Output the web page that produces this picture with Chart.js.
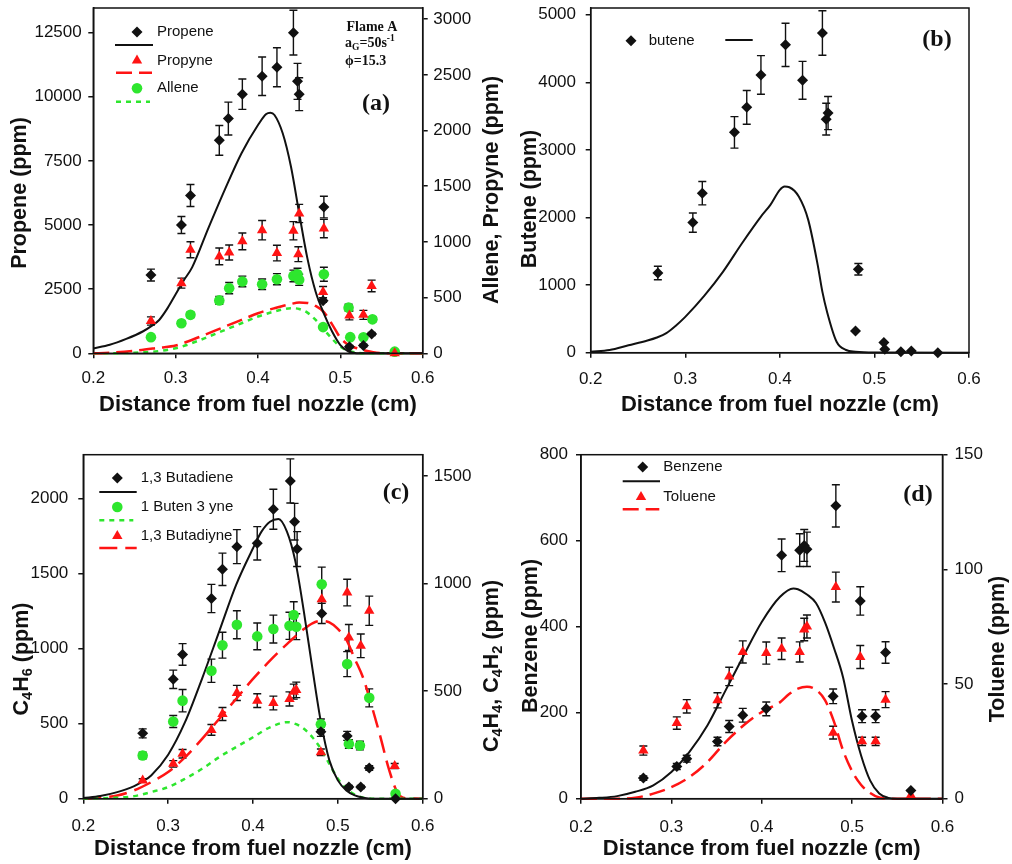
<!DOCTYPE html>
<html><head><meta charset="utf-8">
<script src="https://cdn.jsdelivr.net/npm/chart.js@4.4.1/dist/chart.umd.min.js"></script>
<style>
html,body{margin:0;padding:0;background:#fff;}
#wrap{position:relative;width:1012px;height:864px;overflow:hidden;background:#fff;}
canvas{position:absolute;}
</style></head><body>
<div id="wrap">
<canvas id="ca" width="506" height="432" style="left:0px;top:0px"></canvas>
<canvas id="cb" width="506" height="432" style="left:506px;top:0px"></canvas>
<canvas id="cc" width="506" height="432" style="left:0px;top:432px"></canvas>
<canvas id="cd" width="506" height="432" style="left:506px;top:432px"></canvas>
</div>
<script>
// ---------- shared ticks ----------
const xTicks = [0.2, 0.3, 0.4, 0.5, 0.6];

// ---------- Panel (a) ----------
const aPropeneX   = [0.270,0.307,0.318,0.353,0.364,0.381,0.405,0.423,0.443,0.448,0.450,0.480,0.479,0.511,0.528,0.538];
const aPropeneY   = [3050,5000,6150,8300,9150,10100,10800,11150,12500,10600,10100,5700,2050,260,300,750];
const aPropeneErr = [230,330,430,580,640,590,750,760,870,700,640,420,60,50,50,60];
const aPropyneX   = [0.270,0.307,0.318,0.353,0.365,0.381,0.405,0.423,0.443,0.449,0.450,0.480,0.479,0.511,0.528,0.538,0.566];
const aPropyneY   = [290,630,930,870,905,1005,1105,900,1100,890,1255,1120,550,340,345,605,0];
const aPropyneErr = [37,45,72,75,67,75,87,70,82,67,82,82,50,40,40,52,0];
const aAlleneX    = [0.270,0.307,0.318,0.353,0.365,0.381,0.405,0.423,0.443,0.448,0.450,0.480,0.479,0.510,0.512,0.528,0.539,0.566];
const aAlleneY    = [145,270,345,475,585,645,620,665,695,710,660,710,235,410,145,144,305,15];
const aAlleneErr  = [10,20,25,35,50,48,47,50,52,53,50,63,18,30,10,10,23,0];
const aPropeneModelX = [0.20,0.22,0.24,0.26,0.27,0.28,0.29,0.30,0.31,0.32,0.34,0.36,0.38,0.40,0.41,0.415,0.42,0.43,0.44,0.45,0.46,0.47,0.48,0.49,0.50,0.51,0.52,0.54,0.60];
const aPropeneModelY = [190,330,560,850,1050,1300,1750,2300,2850,3350,4900,6400,7800,8900,9330,9380,9290,8575,7280,5460,3700,2400,1550,850,320,70,5,0,0];
const aPropyneModelX = [0.20,0.22,0.25,0.28,0.30,0.33,0.35,0.38,0.40,0.42,0.44,0.45,0.46,0.47,0.48,0.49,0.50,0.51,0.52,0.53,0.54,0.56,0.60];
const aPropyneModelY = [0,5,22,50,70,150,210,300,360,405,443,455,452,425,370,260,140,75,45,25,10,0,0];
const aAlleneModelX  = [0.20,0.25,0.30,0.33,0.35,0.38,0.40,0.42,0.44,0.45,0.46,0.47,0.48,0.49,0.50,0.51,0.52,0.53,0.60];
const aAlleneModelY  = [0,5,45,120,180,270,330,375,405,398,365,300,215,130,60,22,6,0,0];
const aLeftTicks  = [0,2500,5000,7500,10000,12500];
const aRightTicks = [0,500,1000,1500,2000,2500,3000];

// ---------- Panel (b) ----------
const bButeneX   = [0.271,0.308,0.318,0.352,0.365,0.380,0.406,0.424,0.445,0.449,0.451,0.483,0.480,0.510,0.511,0.528,0.539,0.567];
const bButeneY   = [1180,1925,2360,3260,3630,4110,4555,4030,4730,3455,3545,1235,320,150,50,15,25,0];
const bButeneErr = [100,143,173,233,250,286,320,280,330,235,245,85,0,0,0,0,0,0];
const bModelX = [0.20,0.22,0.24,0.26,0.27,0.28,0.29,0.30,0.32,0.34,0.36,0.38,0.39,0.40,0.405,0.41,0.42,0.43,0.44,0.445,0.45,0.46,0.47,0.48,0.50,0.60];
const bModelY = [15,40,110,180,225,290,400,530,840,1200,1620,2014,2187,2409,2458,2448,2310,1965,1300,900,600,163,40,15,3,0];
const bLeftTicks = [0,1000,2000,3000,4000,5000];

// ---------- Panel (c) ----------
const cButadieneX   = [0.270,0.306,0.317,0.351,0.364,0.381,0.405,0.424,0.444,0.449,0.452,0.481,0.480,0.511,0.513,0.527,0.537,0.568];
const cButadieneY   = [435,795,960,1333,1527,1678,1700,1927,2115,1844,1662,1233,445,418,78,78,204,0];
const cButadieneErr = [30,61,72,94,108,113,111,133,147,122,116,67,30,30,10,10,15,0];
const cButenyneX    = [0.270,0.306,0.317,0.351,0.364,0.381,0.405,0.424,0.443,0.448,0.451,0.481,0.480,0.511,0.513,0.526,0.537,0.568];
const cButenyneY    = [201,359,456,595,714,809,755,789,804,854,800,997,346,626,255,247,469,23];
const cButenyneErr  = [15,28,52,54,60,65,62,65,63,62,60,80,25,58,20,20,42,0];
const cButadiyneX   = [0.270,0.306,0.317,0.351,0.364,0.381,0.405,0.424,0.443,0.448,0.451,0.481,0.480,0.511,0.513,0.527,0.537,0.567];
const cButadiyneY   = [85,162,209,320,394,492,456,445,464,498,506,928,216,959,750,711,874,152];
const cButadiyneErr = [8,15,20,25,30,35,32,32,33,35,36,65,15,62,60,55,68,12];
const cButadieneModelX = [0.20,0.22,0.24,0.26,0.27,0.28,0.30,0.32,0.34,0.36,0.38,0.40,0.41,0.42,0.43,0.44,0.45,0.46,0.47,0.48,0.49,0.50,0.51,0.52,0.53,0.54,0.60];
const cButadieneModelY = [4,18,44,84,115,155,293,511,800,1111,1422,1667,1778,1844,1862,1778,1578,1244,867,511,255,122,55,22,7,0,0];
const cButenyneModelX  = [0.20,0.24,0.26,0.28,0.30,0.32,0.34,0.36,0.38,0.40,0.42,0.44,0.45,0.46,0.47,0.48,0.49,0.50,0.51,0.52,0.53,0.54,0.60];
const cButenyneModelY  = [0,5,12,31,54,93,139,193,240,286,332,356,348,325,286,232,162,93,46,19,5,0,0];
const cButadiyneModelX = [0.20,0.22,0.24,0.26,0.28,0.30,0.32,0.34,0.36,0.38,0.40,0.42,0.44,0.46,0.47,0.48,0.49,0.50,0.51,0.52,0.53,0.54,0.55,0.56,0.57,0.58,0.60];
const cButadiyneModelY = [0,5,15,39,77,124,193,278,371,464,557,642,719,789,816,827,820,790,740,650,560,430,290,140,30,2,0];
const cLeftTicks  = [0,500,1000,1500,2000];
const cRightTicks = [0,500,1000,1500];

// ---------- Panel (d) ----------
const dX          = [0.269,0.306,0.317,0.351,0.364,0.379,0.405,0.422,0.442,0.447,0.450,0.482,0.479,0.509,0.511,0.526,0.537,0.565];
const dBenzeneY   = [48,75,93,133,168,194,209,566,578,589,580,681,238,460,192,192,340,19];
const dBenzeneErr = [5,7,8,10,14,16,16,38,38,37,40,49,17,33,15,15,25,2];
const dTolueneY   = [21,33,40.3,42.9,53.3,64,63.5,65.4,64,73.8,75.1,92.3,28.8,61.8,25,25,43.2,1.5];
const dTolueneErr = [2,2.7,2.9,3.3,4,4.8,4.8,4.7,4.4,4.9,5,6.5,2.8,5,1.8,1.8,3.5,0];
const dBenzeneModelX = [0.20,0.22,0.24,0.26,0.28,0.30,0.32,0.34,0.36,0.38,0.40,0.42,0.435,0.44,0.45,0.46,0.47,0.48,0.49,0.50,0.51,0.52,0.53,0.54,0.55,0.60];
const dBenzeneModelY = [0,2,6,16,31,62,109,171,252,333,411,469,489,487,475,455,410,350,282,180,100,42,12,2,0,0];
const dTolueneModelX = [0.20,0.24,0.26,0.28,0.30,0.32,0.34,0.36,0.38,0.40,0.42,0.43,0.44,0.45,0.46,0.47,0.48,0.49,0.50,0.51,0.52,0.53,0.54,0.60];
const dTolueneModelY = [0,0,0.4,2.2,5,9.4,16,24.7,32,37.8,42,45.5,48,48.8,47.5,43,33.5,21,12,6,2.5,0.5,0,0];
const dLeftTicks  = [0,200,400,600,800];
const dRightTicks = [0,50,100,150];

// ---------- styling helpers ----------
const FONT  = "'Liberation Sans', Arial, Helvetica, sans-serif";
const SERIF = "'Liberation Serif', 'Times New Roman', Times, serif";
const INK   = '#111111';
const RED   = '#ff1414';
const GREEN = '#2ee62e';
Chart.defaults.font.family = FONT;

const pts = (xs, ys) => xs.map((x, i) => ({x: x, y: ys[i]}));

function xScale(g) {
  return {
    type: 'linear', position: 'bottom', min: 0.2, max: 0.6,
    afterBuildTicks: s => { s.ticks = xTicks.map(v => ({value: v})); },
    ticks: {padding: g.xtp, color: INK, font: {family: FONT, size: 17}, callback: v => Number(v).toFixed(1)},
    grid: {drawOnChartArea: false, drawTicks: true, tickLength: 5, color: INK, tickColor: INK, lineWidth: 1.5},
    border: {display: true, color: INK, width: 1.5},
    title: {display: true, text: 'Distance from fuel nozzle (cm)', color: INK,
            font: {family: FONT, size: 22, weight: 'bold'}, padding: {top: 0, bottom: g.xtb}},
    afterFit: s => { s.height = g.H - g.B; s.paddingLeft = 0; s.paddingRight = 0; }
  };
}
function yScale(pos, max, tickVals, g, pad) {
  return {
    type: 'linear', position: pos, min: 0, max: max,
    afterBuildTicks: s => { s.ticks = tickVals.map(v => ({value: v})); },
    ticks: {padding: pad, color: INK, font: {family: FONT, size: 17}, callback: v => String(v)},
    grid: {drawOnChartArea: false, drawTicks: true, tickLength: 5, color: INK, tickColor: INK, lineWidth: 1.5},
    border: {display: true, color: INK, width: 1.5},
    afterFit: s => { s.width = pos === 'left' ? g.L : g.W - g.R; s.paddingTop = 0; s.paddingBottom = 0; }
  };
}
function pointSet(xs, ys, errs, axis, style, color, r) {
  return {data: pts(xs, ys), yAxisID: axis, showLine: false, pointStyle: style, pointRadius: r,
          pointHoverRadius: r, backgroundColor: color, borderColor: color, borderWidth: 0,
          errorBars: errs, clip: false};
}
function lineSet(xs, ys, axis, color, dash, w) {
  return {data: pts(xs, ys), yAxisID: axis, showLine: true, pointRadius: 0, pointHoverRadius: 0,
          borderColor: color, backgroundColor: color, borderWidth: w, borderDash: dash,
          cubicInterpolationMode: 'monotone', fill: false, clip: false};
}

function marker(ctx, style, x, y, r, color) {
  ctx.beginPath();
  if (style === 'rectRot') { ctx.moveTo(x - r, y); ctx.lineTo(x, y - r); ctx.lineTo(x + r, y); ctx.lineTo(x, y + r); }
  else if (style === 'triangle') { ctx.moveTo(x, y - r); ctx.lineTo(x + r * 0.866, y + r * 0.5); ctx.lineTo(x - r * 0.866, y + r * 0.5); }
  else { ctx.arc(x, y, r, 0, Math.PI * 2); }
  ctx.closePath(); ctx.fillStyle = color; ctx.fill();
}
function drawRich(ctx, segs, x, y, size, weight, family, align, color) {
  const parts = segs.map(s => {
    const fs = s.k ? size * 0.68 : size;
    ctx.font = weight + ' ' + fs + 'px ' + family;
    return {s: s, fs: fs, w: ctx.measureText(s.t).width};
  });
  const total = parts.reduce((a, p) => a + p.w, 0);
  let cx = align === 'center' ? x - total / 2 : x;
  ctx.textBaseline = 'middle'; ctx.textAlign = 'left'; ctx.fillStyle = color;
  parts.forEach(p => {
    ctx.font = weight + ' ' + p.fs + 'px ' + family;
    const dy = p.s.k === 'sub' ? size * 0.28 : (p.s.k === 'sup' ? -size * 0.32 : 0);
    ctx.fillText(p.s.t, cx, y + dy);
    cx += p.w;
  });
}
function decor(cfg) {
  return {
    id: 'decor',
    beforeDatasetsDraw(chart) {
      const ctx = chart.ctx, xs = chart.scales.x;
      ctx.save(); ctx.strokeStyle = INK; ctx.lineWidth = 1.4;
      chart.data.datasets.forEach(ds => {
        if (!ds.errorBars) return;
        const ys = chart.scales[ds.yAxisID];
        ds.data.forEach((p, i) => {
          const e = ds.errorBars[i];
          if (!e) return;
          const px = xs.getPixelForValue(p.x), y1 = ys.getPixelForValue(p.y + e), y2 = ys.getPixelForValue(p.y - e);
          ctx.beginPath();
          ctx.moveTo(px, y1); ctx.lineTo(px, y2);
          ctx.moveTo(px - 4, y1); ctx.lineTo(px + 4, y1);
          ctx.moveTo(px - 4, y2); ctx.lineTo(px + 4, y2);
          ctx.stroke();
        });
      });
      ctx.restore();
    },
    afterDraw(chart) {
      const ctx = chart.ctx, a = chart.chartArea;
      ctx.save();
      ctx.strokeStyle = INK; ctx.lineWidth = 1.5;
      ctx.strokeRect(a.left, a.top, a.right - a.left, a.bottom - a.top);
      (cfg.legend || []).forEach(it => {
        if (it.type === 'pt') {
          marker(ctx, it.style, it.x, it.y, it.r, it.color);
          ctx.font = '15px ' + FONT; ctx.fillStyle = INK; ctx.textAlign = 'left'; ctx.textBaseline = 'middle';
          ctx.fillText(it.text, it.tx, it.y);
        } else {
          ctx.beginPath(); ctx.strokeStyle = it.color; ctx.lineWidth = it.w; ctx.setLineDash(it.dash || []);
          ctx.moveTo(it.x1, it.y); ctx.lineTo(it.x2, it.y); ctx.stroke(); ctx.setLineDash([]);
        }
      });
      (cfg.ytitles || []).forEach(t => {
        ctx.save(); ctx.translate(t.x, t.y); ctx.rotate(-Math.PI / 2);
        drawRich(ctx, t.segs, 0, 0, 21.5, 'bold', FONT, 'center', INK);
        ctx.restore();
      });
      if (cfg.label) {
        ctx.font = 'bold 24px ' + SERIF; ctx.fillStyle = INK; ctx.textAlign = 'center'; ctx.textBaseline = 'middle';
        ctx.fillText(cfg.label.t, cfg.label.x, cfg.label.y);
      }
      (cfg.notes || []).forEach(n => drawRich(ctx, n.segs, n.x, n.y, 14, 'bold', SERIF, 'left', INK));
      ctx.restore();
    }
  };
}
function makeChart(id, g, scales, datasets, cfg) {
  return new Chart(document.getElementById(id), {
    type: 'scatter',
    data: {datasets: datasets},
    options: {
      responsive: false, animation: false, devicePixelRatio: 1, events: [],
      layout: {padding: {top: g.T, left: 0, right: g.padR || 0, bottom: 0}},
      plugins: {legend: {display: false}, tooltip: {enabled: false}},
      scales: scales
    },
    plugins: [decor(cfg)]
  });
}

// ---------- (a) ----------
const gA = {W: 506, H: 432, L: 93.3, R: 422.7, T: 8, B: 353.3, xtp: 9.8, xtb: 13.8};
makeChart('ca', gA,
  {x: xScale(gA), y: yScale('left', 13460, aLeftTicks, gA, 6.6), y2: yScale('right', 3100, aRightTicks, gA, 5.6)},
  [
    pointSet(aPropeneX, aPropeneY, aPropeneErr, 'y', 'rectRot', INK, 5.5),
    pointSet(aPropyneX, aPropyneY, aPropyneErr, 'y2', 'triangle', RED, 6),
    pointSet(aAlleneX, aAlleneY, aAlleneErr, 'y2', 'circle', GREEN, 5.3),
    lineSet(aPropeneModelX, aPropeneModelY, 'y', INK, [], 2),
    lineSet(aPropyneModelX, aPropyneModelY, 'y2', RED, [16, 7], 2.5),
    lineSet(aAlleneModelX, aAlleneModelY, 'y2', GREEN, [5, 5], 2.5)
  ],
  {
    legend: [
      {type: 'pt', style: 'rectRot', r: 5.5, color: INK, x: 137, y: 32, tx: 157, text: 'Propene'},
      {type: 'ln', x1: 115, x2: 153, y: 45, color: INK, w: 2},
      {type: 'pt', style: 'triangle', r: 6, color: RED, x: 137, y: 60.5, tx: 157, text: 'Propyne'},
      {type: 'ln', x1: 116, x2: 152, y: 72.7, color: RED, w: 2.5, dash: [16, 7]},
      {type: 'pt', style: 'circle', r: 5.3, color: GREEN, x: 137, y: 88.3, tx: 157, text: 'Allene'},
      {type: 'ln', x1: 116, x2: 150, y: 101.7, color: GREEN, w: 2.5, dash: [5, 5]}
    ],
    ytitles: [
      {x: 20, y: 193, segs: [{t: 'Propene (ppm)'}]},
      {x: 492, y: 190, segs: [{t: 'Allene, Propyne (ppm)'}]}
    ],
    label: {t: '(a)', x: 376, y: 104},
    notes: [
      {x: 346.5, y: 27.3, segs: [{t: 'Flame A'}]},
      {x: 345, y: 43.5, segs: [{t: 'a'}, {t: 'G', k: 'sub'}, {t: '=50s'}, {t: '-1', k: 'sup'}]},
      {x: 345, y: 61.7, segs: [{t: 'ϕ=15.3'}]}
    ]
  });

// ---------- (b) ----------
const gB = {W: 506, H: 432, L: 84.7, R: 463, T: 8, B: 352.7, xtp: 11.8, xtb: 13.8, padR: 43};
makeChart('cb', gB,
  {x: xScale(gB), y: yScale('left', 5100, bLeftTicks, gB, 9.7)},
  [
    pointSet(bButeneX, bButeneY, bButeneErr, 'y', 'rectRot', INK, 5.5),
    lineSet(bModelX, bModelY, 'y', INK, [], 2)
  ],
  {
    legend: [
      {type: 'pt', style: 'rectRot', r: 5.5, color: INK, x: 125, y: 40.7, tx: 142.7, text: 'butene'},
      {type: 'ln', x1: 219.3, x2: 246.7, y: 40, color: INK, w: 2}
    ],
    ytitles: [{x: 24, y: 199, segs: [{t: 'Butene (ppm)'}]}],
    label: {t: '(b)', x: 431, y: 40}
  });

// ---------- (c) ----------
const gC = {W: 506, H: 432, L: 83.3, R: 422.7, T: 22.7, B: 366.7, xtp: 12.8, xtb: 2.1};
makeChart('cc', gC,
  {x: xScale(gC), y: yScale('left', 2290, cLeftTicks, gC, 10), y2: yScale('right', 1600, cRightTicks, gC, 6)},
  [
    pointSet(cButadieneX, cButadieneY, cButadieneErr, 'y', 'rectRot', INK, 5.5),
    pointSet(cButenyneX, cButenyneY, cButenyneErr, 'y2', 'circle', GREEN, 5.3),
    pointSet(cButadiyneX, cButadiyneY, cButadiyneErr, 'y2', 'triangle', RED, 6),
    lineSet(cButadieneModelX, cButadieneModelY, 'y', INK, [], 2),
    lineSet(cButenyneModelX, cButenyneModelY, 'y2', GREEN, [5, 5], 2.5),
    lineSet(cButadiyneModelX, cButadiyneModelY, 'y2', RED, [18, 8], 2.5)
  ],
  {
    legend: [
      {type: 'pt', style: 'rectRot', r: 5.5, color: INK, x: 117.3, y: 46, tx: 140.7, text: '1,3 Butadiene'},
      {type: 'ln', x1: 99.3, x2: 136.7, y: 60, color: INK, w: 2},
      {type: 'pt', style: 'circle', r: 5.3, color: GREEN, x: 117.3, y: 75, tx: 140.7, text: '1 Buten 3 yne'},
      {type: 'ln', x1: 99.3, x2: 133.3, y: 88.3, color: GREEN, w: 2.5, dash: [5, 5]},
      {type: 'pt', style: 'triangle', r: 6, color: RED, x: 117.3, y: 104, tx: 140.7, text: '1,3 Butadiyne'},
      {type: 'ln', x1: 99.3, x2: 136.7, y: 116, color: RED, w: 2.5, dash: [18, 8]}
    ],
    ytitles: [
      {x: 22, y: 227, segs: [{t: 'C'}, {t: '4', k: 'sub'}, {t: 'H'}, {t: '6', k: 'sub'}, {t: ' (ppm)'}]},
      {x: 492, y: 234, segs: [{t: 'C'}, {t: '4', k: 'sub'}, {t: 'H'}, {t: '4', k: 'sub'}, {t: ', C'}, {t: '4', k: 'sub'}, {t: 'H'}, {t: '2', k: 'sub'}, {t: ' (ppm)'}]}
    ],
    label: {t: '(c)', x: 396, y: 61}
  });

// ---------- (d) ----------
const gD = {W: 506, H: 432, L: 75, R: 436.5, T: 22.7, B: 366.7, xtp: 13.1, xtb: 2.1};
makeChart('cd', gD,
  {x: xScale(gD), y: yScale('left', 800, dLeftTicks, gD, 8), y2: yScale('right', 150, dRightTicks, gD, 7)},
  [
    pointSet(dX, dBenzeneY, dBenzeneErr, 'y', 'rectRot', INK, 5.5),
    pointSet(dX, dTolueneY, dTolueneErr, 'y2', 'triangle', RED, 6),
    lineSet(dBenzeneModelX, dBenzeneModelY, 'y', INK, [], 2),
    lineSet(dTolueneModelX, dTolueneModelY, 'y2', RED, [16, 7], 2.5)
  ],
  {
    legend: [
      {type: 'pt', style: 'rectRot', r: 5.5, color: INK, x: 136.7, y: 35, tx: 157.3, text: 'Benzene'},
      {type: 'ln', x1: 116.7, x2: 154, y: 49.3, color: INK, w: 2},
      {type: 'pt', style: 'triangle', r: 6, color: RED, x: 135, y: 65, tx: 157.3, text: 'Toluene'},
      {type: 'ln', x1: 116.7, x2: 153.3, y: 77.3, color: RED, w: 2.5, dash: [16, 7]}
    ],
    ytitles: [
      {x: 25, y: 204, segs: [{t: 'Benzene (ppm)'}]},
      {x: 491.7, y: 217, segs: [{t: 'Toluene (ppm)'}]}
    ],
    label: {t: '(d)', x: 412, y: 63}
  });
</script>
</body></html>
